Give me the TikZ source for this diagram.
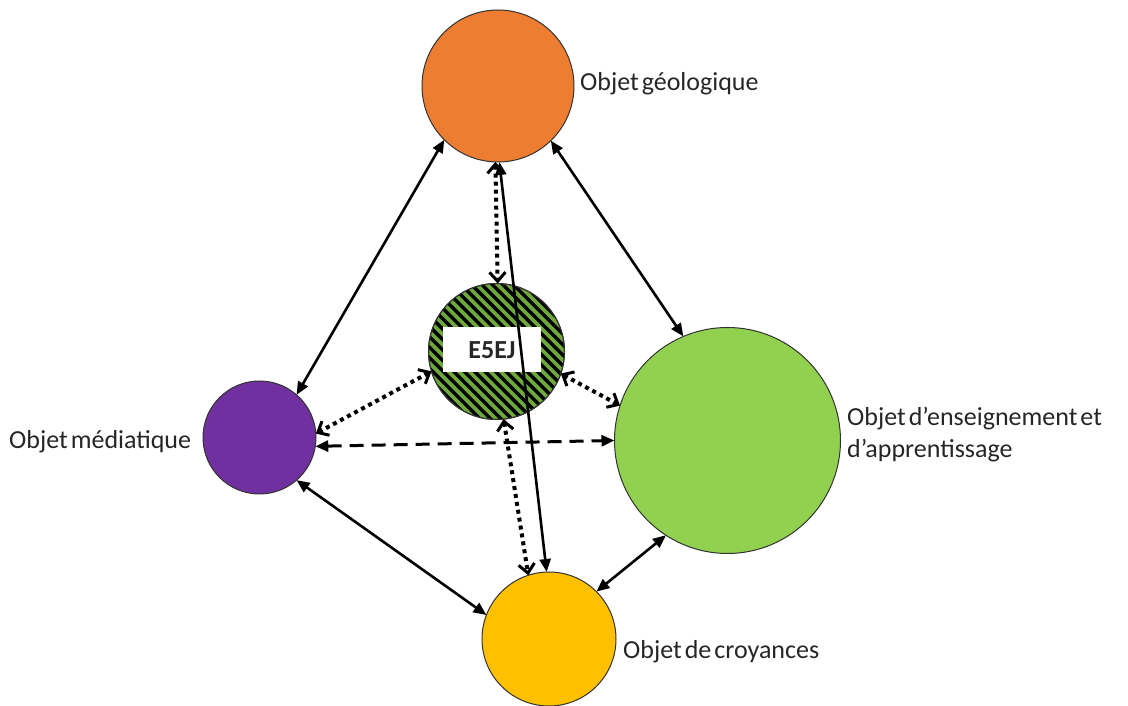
\documentclass[tikz,border=0pt]{standalone}
\usepackage{fontspec}
\setmainfont{Carlito}
\usetikzlibrary{arrows.meta}
\definecolor{corange}{HTML}{ED7D31}
\definecolor{cpurple}{HTML}{7030A0}
\definecolor{clgreen}{HTML}{92D050}
\definecolor{cyellow}{HTML}{FFC000}
\definecolor{chatch}{HTML}{6FA83C}
\definecolor{ctext}{HTML}{262626}
\newcommand\mylblfont{\fontsize{26}{32}\selectfont\spaceskip=3pt plus 1pt minus 0.5pt\relax}
\begin{document}
\begin{tikzpicture}[x=1pt,y=1pt,
  obj/.style={circle, draw=black!80, line width=1pt, inner sep=0pt, outer sep=0pt},
  lbl/.style={font=\mylblfont, text=ctext, inner sep=0pt, align=left},
  solidarr/.style={line width=2.6pt, {Triangle[length=13pt,width=11pt]}-{Triangle[length=13pt,width=11pt]}},
  dotarr/.style={line width=4pt, dash pattern=on 4pt off 4pt,
    {Straight Barb[length=9pt,width=16pt,line width=3pt]}-{Straight Barb[length=9pt,width=16pt,line width=3pt]}},
  dasharr/.style={line width=3pt, dash pattern=on 14pt off 8pt,
    {Triangle[length=13pt,width=11pt]}-{Triangle[length=13pt,width=11pt]}}
]
\useasboundingbox (0,0) rectangle (1128,706);
% circles
\node[obj, fill=corange, minimum size=152pt] (geo) at (498,620) {};
\node[obj, fill=cpurple, minimum size=113pt] (med) at (259.5,268.5) {};
\node[obj, fill=clgreen, minimum size=226pt] (ens) at (727.5,265.5) {};
\node[obj, fill=cyellow, minimum size=134pt] (cro) at (549,67) {};
\node[obj, fill=chatch, minimum size=136pt] (e5ej) at (496.5,354.5) {};
% hatching of E5EJ
\begin{scope}
  \clip (e5ej.center) circle (67.5);
  \begin{scope}[shift={(e5ej.center)}, rotate=-45]
    \foreach \i in {-10,...,10} {
      \draw[black, line width=3.4pt] (-90,\i*7.4) -- (90,\i*7.4);
    }
  \end{scope}
\end{scope}
\draw[black!80, line width=1pt] (e5ej.center) circle (68);
\node[fill=white, minimum width=98pt, minimum height=45pt, inner sep=0pt,
  font=\fontsize{26}{32}\selectfont\bfseries, text=ctext] (e5ejlbl) at ([shift={(-4.5,1.5)}]e5ej.center) {E5EJ};
% labels
\node[lbl, anchor=west] (lgeo) at (580,622) {Objet géologique};
\node[lbl, anchor=west] (lmed) at (9,264) {Objet médiatique};
\node[lbl, anchor=west] (lens) at (847,271) {Objet d’enseignement et\\d’apprentissage};
\node[lbl, anchor=west] (lcro) at (623,54) {Objet de croyances};
% connectors
\draw[solidarr] (geo.225) -- (med.49);
\draw[solidarr] (geo.314.5) -- (ens.113);
\draw[solidarr] (geo.271.5) -- (cro.92);
\draw[solidarr] (med.311) -- (cro.159.4);
\draw[solidarr] (cro.45.6) -- (ens.237.3);
\draw[dasharr] (med.351) -- (ens.180);
\draw[dotarr] (geo.268) -- (e5ej.89);
\draw[dotarr] (e5ej.197) -- (med.4);
\draw[dotarr] (e5ej.341) -- (ens.162.5);
\draw[dotarr] (e5ej.276) -- (cro.108.7);
\end{tikzpicture}
\end{document}
